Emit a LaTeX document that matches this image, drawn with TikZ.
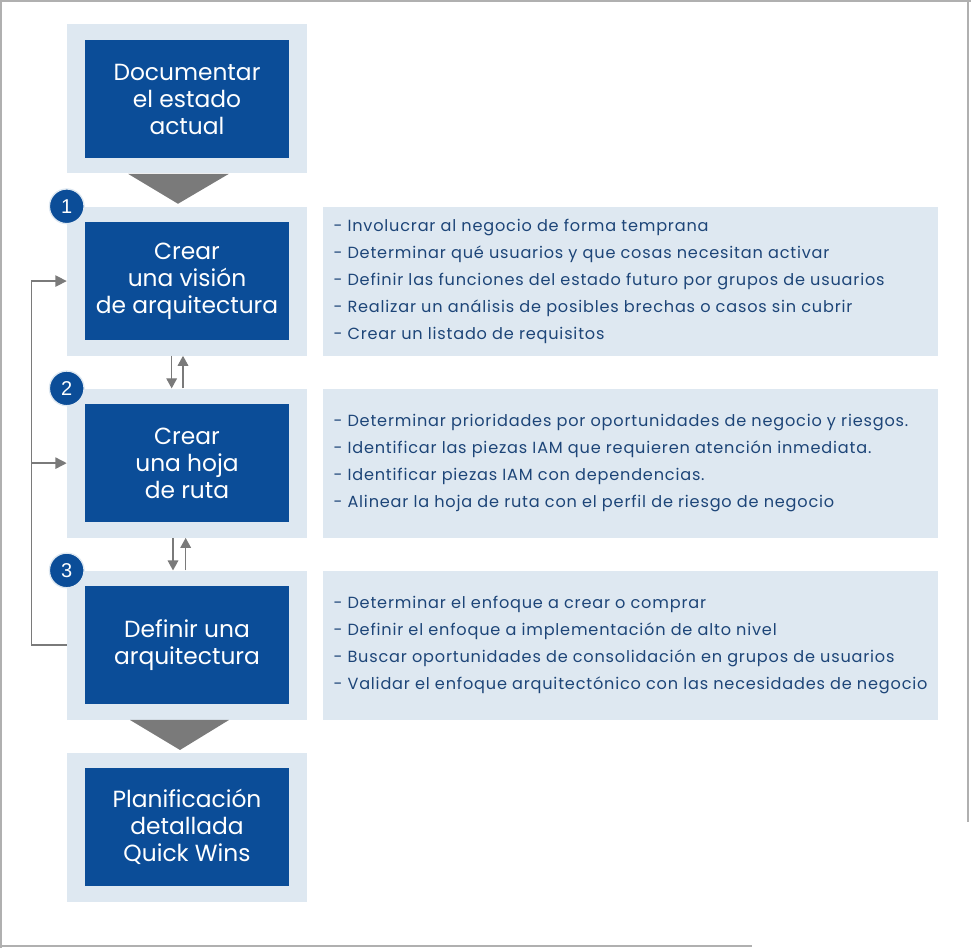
\documentclass[tikz,border=0pt]{standalone}
\usepackage{fontspec}
\setmainfont{Poppins}
\newfontfamily\numfont{Liberation Sans}
\newfontfamily\listfont[LetterSpace=5]{Poppins}
\usetikzlibrary{arrows.meta,positioning,calc}

\definecolor{stepblue}{HTML}{0B4D98}
\definecolor{panelblue}{HTML}{DEE8F1}
\definecolor{listblue}{HTML}{1D4578}
\definecolor{linkgray}{HTML}{7A7A7A}
\definecolor{framegray}{HTML}{B0B0B0}

\begin{document}
\begin{tikzpicture}[
        x=0.75pt, y=-0.75pt,
        node distance=24.4pt and 11.25pt,
        panel/.style={fill=panelblue, minimum width=180pt, minimum height=111.75pt, inner sep=0pt},
        stepbox/.style={fill=stepblue, text=white, align=center, minimum width=153pt, minimum height=88.5pt, inner sep=0pt, font=\fontsize{17.5}{20.25}\selectfont},
        listbox/.style={fill=panelblue, minimum width=461.25pt, minimum height=111.75pt, inner sep=0pt},
        listtext/.style={text=listblue, align=left, anchor=west, inner sep=0pt, font=\listfont\fontsize{12.1}{20.25}\selectfont},
        badge/.style={circle, fill=stepblue, draw=panelblue, line width=1pt, text=white, minimum size=26pt, inner sep=0pt, font=\numfont\fontsize{15}{15}\selectfont},
        link/.style={draw=linkgray, line width=1.1pt, -{Triangle[length=8.5pt,width=8.5pt]}},
        swap/.style={draw=linkgray, line width=0.9pt, -{Triangle[length=7.5pt,width=8pt]}},
        wedge/.style={fill=linkgray}
    ]
    \useasboundingbox (0,0) rectangle (971,948);

    % Frame
    \draw[framegray, line width=1.1pt] (0,1) -- (971,1);
    \draw[framegray, line width=1.1pt] (1,0) -- (1,948);
    \draw[framegray, line width=1.1pt] (968,0) -- (968,822);
    \draw[framegray, line width=1.1pt] (0,946) -- (752,946);

    % Nodes
    \node[panel] (panel0) at (187,99) {};
    \node[panel, below=of panel0] (panel1) {};
    \node[panel, below=of panel1] (panel2) {};
    \node[panel, below=of panel2] (panel3) {};
    \node[panel, below=of panel3] (panel4) {};

    \node[stepbox] (step0) at (panel0) {Documentar\\el estado\\actual};
    \node[stepbox] (step1) at (panel1) {Crear\\una visión\\de arquitectura};
    \node[stepbox] (step2) at (panel2) {Crear\\una hoja\\de ruta};
    \node[stepbox] (step3) at (panel3) {Definir una\\arquitectura};
    \node[stepbox] (step4) at (panel4) {Planificación\\detallada\\Quick Wins};

    \node[badge] (badge1) at (panel1.north west) {1};
    \node[badge] (badge2) at (panel2.north west) {2};
    \node[badge] (badge3) at (panel3.north west) {3};

    \node[listbox, right=of panel1] (listpanel1) {};
    \node[listbox, right=of panel2] (listpanel2) {};
    \node[listbox, right=of panel3] (listpanel3) {};

    \node[listtext] (list1) at ([xshift=8.25pt]listpanel1.west) {- Involucrar al negocio de forma temprana\\
        - Determinar qué usuarios y que cosas necesitan activar\\
        - Definir las funciones del estado futuro por grupos de usuarios\\
        - Realizar un análisis de posibles brechas o casos sin cubrir\\
        - Crear un listado de requisitos};
    \node[listtext] (list2) at ([xshift=8.25pt]listpanel2.west) {- Determinar prioridades por oportunidades de negocio y riesgos.\\
        - Identificar las piezas IAM que requieren atención inmediata.\\
        - Identificar piezas IAM con dependencias.\\
        - Alinear la hoja de ruta con el perfil de riesgo de negocio};
    \node[listtext] (list3) at ([xshift=8.25pt]listpanel3.west) {- Determinar el enfoque a crear o comprar\\
        - Definir el enfoque a implementación de alto nivel\\
        - Buscar oportunidades de consolidación en grupos de usuarios\\
        - Validar el enfoque arquitectónico con las necesidades de negocio};

    % Arrows
    \fill[wedge] ($(panel0.south)+(-59,0)$) -- ($(panel0.south)+(42,0)$) -- ($(panel0.south)+(-9,30)$) -- cycle;
    \fill[wedge] ($(panel3.south)+(-57,0)$) -- ($(panel3.south)+(42,0)$) -- ($(panel3.south)+(-7,30)$) -- cycle;

    \draw[swap] ([xshift=-11.5pt]panel1.south) -- ([xshift=-11.5pt]panel2.north);
    \draw[swap] ([xshift=-3pt]panel2.north) -- ([xshift=-3pt]panel1.south);
    \draw[swap] ([xshift=-10.5pt]panel2.south) -- ([xshift=-10.5pt]panel3.north);
    \draw[swap] ([xshift=-1pt]panel3.north) -- ([xshift=-1pt]panel2.south);

    \coordinate (loop) at ($(panel3.west)+(-35,0)$);
    \draw[link] (panel3.west) -- (loop) |- (panel1.west);
    \draw[link] (loop |- panel2.west) -- (panel2.west);

    \end{tikzpicture}
\end{document}
